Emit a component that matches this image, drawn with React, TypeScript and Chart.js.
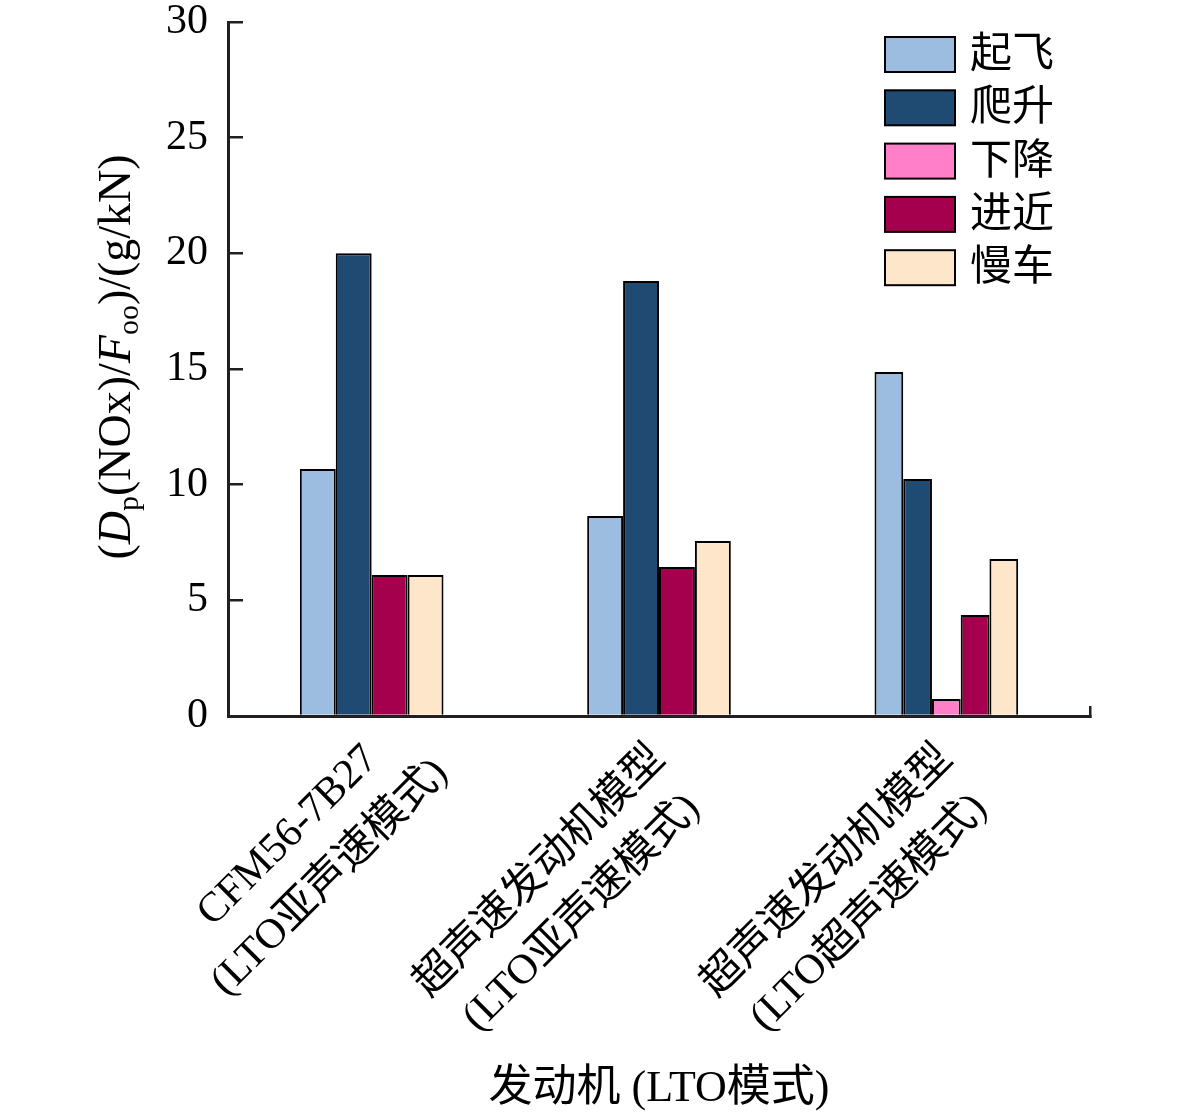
import { useEffect, useRef } from 'react';
import { Chart, registerables } from 'chart.js';

Chart.register(...registerables);

const engines = [
  ['CFM56-7B27', '(LTO亚声速模式)'],
  ['超声速发动机模型', '(LTO亚声速模式)'],
  ['超声速发动机模型', '(LTO超声速模式)'],
];
const phases = ['起飞', '爬升', '下降', '进近', '慢车'];
const takeoff = [10.68, 8.65, 14.87];
const climb = [20.0, 18.8, 10.25];
const descent = [null, null, 0.73];
const approach = [6.1, 6.44, 4.37];
const idle = [6.1, 7.57, 6.79];
const phaseColors = ['#9dbde0', '#1f4a72', '#ff80c8', '#a4004e', '#fee6cb'];
const yTicks = [0, 5, 10, 15, 20, 25, 30];

const FONT = '"Liberation Serif", "Noto Sans CJK SC", serif';
const INK = '#231f20';

// y title with italic letters and subscripts
const yTitlePlugin = {
  id: 'yTitle',
  afterDraw(chart: any) {
    const ctx = chart.ctx;
    const area = chart.chartArea;
    const parts = [
      { t: '(', f: `46px ${FONT}`, dy: 0 },
      { t: 'D', f: `italic 46px ${FONT}`, dy: 0 },
      { t: 'p', f: `30px ${FONT}`, dy: 12 },
      { t: '(NOx)/', f: `46px ${FONT}`, dy: 0 },
      { t: 'F', f: `italic 46px ${FONT}`, dy: 0 },
      { t: 'oo', f: `30px ${FONT}`, dy: 12 },
      { t: ')/(g/kN)', f: `46px ${FONT}`, dy: 0 },
    ];
    ctx.save();
    let total = 0;
    for (const p of parts) {
      ctx.font = p.f;
      total += ctx.measureText(p.t).width;
    }
    ctx.translate(118, area.top + 335);
    ctx.rotate(-Math.PI / 2);
    ctx.fillStyle = '#000';
    ctx.textBaseline = 'middle';
    ctx.textAlign = 'left';
    let x = -total / 2;
    for (const p of parts) {
      ctx.font = p.f;
      ctx.fillText(p.t, x, p.dy);
      x += ctx.measureText(p.t).width;
    }
    ctx.restore();
  },
};

// rotated two-line category labels: first line ends near the tick, second centred on it
const xLabelPlugin = {
  id: 'xLabels',
  afterDraw(chart: any) {
    const ctx = chart.ctx;
    const xs = chart.scales.x;
    const axisY = chart.chartArea.bottom;
    ctx.save();
    ctx.font = `42px ${FONT}`;
    ctx.fillStyle = '#000';
    ctx.textAlign = 'center';
    ctx.textBaseline = 'middle';
    chart.data.labels.forEach((lines: string[], i: number) => {
      const x = xs.getPixelForValue(i);
      const w1 = ctx.measureText(lines[0]).width;
      const cu = -26 - w1 / 2;
      ctx.save();
      ctx.translate(x, axisY);
      ctx.rotate(-Math.PI / 4);
      lines.forEach((l, j) => ctx.fillText(l, cu, 26 + j * 59));
      ctx.restore();
    });
    ctx.restore();
  },
};

const legendPlugin = {
  id: 'boxLegend',
  afterDraw(chart: any) {
    const ctx = chart.ctx;
    ctx.save();
    chart.data.datasets.forEach((ds: any, i: number) => {
      const y = 37 + i * 53.3;
      ctx.fillStyle = ds.backgroundColor;
      ctx.fillRect(885, y, 70, 35);
      ctx.strokeStyle = '#000';
      ctx.lineWidth = 2;
      ctx.strokeRect(885, y, 70, 35);
      ctx.fillStyle = '#000';
      ctx.font = `42px ${FONT}`;
      ctx.textBaseline = 'middle';
      ctx.fillText(ds.label, 970, y + 19);
    });
    ctx.restore();
  },
};

export default function App() {
  const chartRef = useRef<HTMLCanvasElement>(null);
  const chartInstance = useRef<Chart | null>(null);

  useEffect(() => {
    document.body.style.margin = '0';
    if (!chartRef.current) return;
    if (chartInstance.current) chartInstance.current.destroy();
    const ctx = chartRef.current.getContext('2d');
    if (!ctx) return;

    const series = [takeoff, climb, descent, approach, idle];

    chartInstance.current = new Chart(ctx, {
      type: 'bar',
      data: {
        labels: engines,
        datasets: phases.map((p, i) => ({
          label: p,
          data: series[i],
          backgroundColor: phaseColors[i],
          borderColor: '#000',
          borderWidth: 2,
        })),
      },
      options: {
        responsive: true,
        maintainAspectRatio: false,
        animation: false,
        skipNull: true,
        categoryPercentage: 0.5,
        barPercentage: 1,
        layout: { padding: { left: 0, top: 22, right: 91, bottom: 0 } },
        plugins: {
          legend: { display: false },
          tooltip: { enabled: false },
        },
        scales: {
          x: {
            afterFit: (scale: any) => {
              scale.height = 402;
              scale.paddingLeft = 0;
              scale.paddingRight = 0;
            },
            border: { display: true, color: INK, width: 3 },
            grid: {
              drawOnChartArea: false,
              drawTicks: true,
              tickLength: -10,
              lineWidth: 2.5,
              color: (c: any) => (c.index === undefined ? INK : 'rgba(0,0,0,0)'),
            },
            ticks: { display: false },
            title: {
              display: true,
              text: '发动机 (LTO模式)',
              color: '#000',
              font: { family: FONT, size: 44, lineHeight: 1.2 },
              padding: { top: 0, bottom: 2 },
            },
          },
          y: {
            min: 0,
            max: 30,
            afterFit: (scale: any) => {
              scale.width = 228;
              scale.paddingTop = 0;
              scale.paddingBottom = 0;
            },
            afterBuildTicks: (scale: any) => {
              scale.ticks = yTicks.map((v) => ({ value: v }));
            },
            border: { display: true, color: INK, width: 3 },
            grid: {
              drawOnChartArea: false,
              drawTicks: true,
              tickLength: -15,
              lineWidth: 2.5,
              color: INK,
            },
            ticks: {
              color: '#000',
              padding: 35,
              font: { family: FONT, size: 42, lineHeight: 1 },
            },
          },
        },
      } as any,
      plugins: [yTitlePlugin, xLabelPlugin, legendPlugin],
    });

    return () => {
      if (chartInstance.current) {
        chartInstance.current.destroy();
        chartInstance.current = null;
      }
    };
  }, []);

  return (
    <div style={{ position: 'fixed', left: 0, top: 0, width: 1181, height: 1118, background: '#fff' }}>
      <canvas ref={chartRef} />
    </div>
  );
}
